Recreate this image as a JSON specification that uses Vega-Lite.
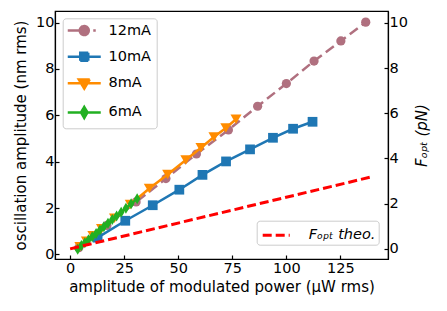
{
  "$schema": "https://vega.github.io/schema/vega-lite/v6.json",
  "width": 333,
  "height": 248,
  "autosize": {"type": "none"},
  "padding": {"left": 55, "top": 11, "right": 59, "bottom": 52},
  "config": {
    "font": "DejaVu Sans",
    "view": {"stroke": "#000", "strokeWidth": 1.2},
    "axis": {
      "domainColor": "#000", "domainWidth": 1.2, "tickColor": "#000", "tickWidth": 1.2,
      "tickSize": -4, "labelColor": "#000", "titleColor": "#000", "labelFontSize": 14.5,
      "titleFontSize": 15, "titleFontWeight": "normal", "grid": false, "labelFlush": false,
      "labelOverlap": false
    }
  },
  "datasets": {
    "series": [
      {"series": "12mA", "x": 4, "y": 0.29},
      {"series": "12mA", "x": 17, "y": 1.25},
      {"series": "12mA", "x": 30.5, "y": 2.26},
      {"series": "12mA", "x": 44.3, "y": 3.27},
      {"series": "12mA", "x": 58.4, "y": 4.33},
      {"series": "12mA", "x": 73.2, "y": 5.37},
      {"series": "12mA", "x": 86.7, "y": 6.39},
      {"series": "12mA", "x": 100, "y": 7.37},
      {"series": "12mA", "x": 112.8, "y": 8.34},
      {"series": "12mA", "x": 125.2, "y": 9.21},
      {"series": "12mA", "x": 136.7, "y": 10.02},
      {"series": "10mA", "x": 12.7, "y": 0.72},
      {"series": "10mA", "x": 25.5, "y": 1.45},
      {"series": "10mA", "x": 38.2, "y": 2.12},
      {"series": "10mA", "x": 50.5, "y": 2.79},
      {"series": "10mA", "x": 61.2, "y": 3.43},
      {"series": "10mA", "x": 72.1, "y": 4.01},
      {"series": "10mA", "x": 83.2, "y": 4.53},
      {"series": "10mA", "x": 93.8, "y": 5.03},
      {"series": "10mA", "x": 103.1, "y": 5.42},
      {"series": "10mA", "x": 112.1, "y": 5.72},
      {"series": "8mA", "x": 4.5, "y": 0.33},
      {"series": "8mA", "x": 7.5, "y": 0.57},
      {"series": "8mA", "x": 10.5, "y": 0.8},
      {"series": "8mA", "x": 14.5, "y": 1.1},
      {"series": "8mA", "x": 20.5, "y": 1.56},
      {"series": "8mA", "x": 27.8, "y": 2.15},
      {"series": "8mA", "x": 36.6, "y": 2.84},
      {"series": "8mA", "x": 45.1, "y": 3.45},
      {"series": "8mA", "x": 53.5, "y": 4.07},
      {"series": "8mA", "x": 60.5, "y": 4.6},
      {"series": "8mA", "x": 66.5, "y": 5.06},
      {"series": "8mA", "x": 72.0, "y": 5.45},
      {"series": "8mA", "x": 76.7, "y": 5.83},
      {"series": "6mA", "x": 3.5, "y": 0.22},
      {"series": "6mA", "x": 5.2, "y": 0.38},
      {"series": "6mA", "x": 6.8, "y": 0.5},
      {"series": "6mA", "x": 8.5, "y": 0.63},
      {"series": "6mA", "x": 10.2, "y": 0.76},
      {"series": "6mA", "x": 12.0, "y": 0.9},
      {"series": "6mA", "x": 13.8, "y": 1.05},
      {"series": "6mA", "x": 15.6, "y": 1.19},
      {"series": "6mA", "x": 17.5, "y": 1.34},
      {"series": "6mA", "x": 19.5, "y": 1.5},
      {"series": "6mA", "x": 21.5, "y": 1.66},
      {"series": "6mA", "x": 23.6, "y": 1.82},
      {"series": "6mA", "x": 25.8, "y": 1.99},
      {"series": "6mA", "x": 28.2, "y": 2.18},
      {"series": "6mA", "x": 31.0, "y": 2.4}
    ],
    "theory": [
      {"label": "Fₒₚₜ theo.", "x": 0, "f": 0},
      {"label": "Fₒₚₜ theo.", "x": 140, "f": 3.2}
    ]
  },
  "layer": [
    {
      "data": {"name": "series"},
      "encoding": {
        "x": {"field": "x", "type": "quantitative", "scale": {"domain": [-7, 147], "nice": false, "zero": false},
              "axis": {"values": [0, 25, 50, 75, 100, 125], "title": "amplitude of modulated power (μW rms)", "labelPadding": 6, "titlePadding": 5}},
        "y": {"field": "y", "type": "quantitative", "scale": {"domain": [-0.2, 10.5], "nice": false, "zero": false},
              "axis": {"values": [0, 2, 4, 6, 8, 10], "title": "oscillation amplitude (nm rms)", "labelPadding": 5, "titlePadding": 7}},
        "color": {"field": "series", "type": "nominal",
          "scale": {"domain": ["12mA", "10mA", "8mA", "6mA"], "range": ["#b0707f", "#1f77b4", "#ff8c00", "#22b022"]},
          "legend": {
            "orient": "none", "legendX": 7.7, "legendY": 7.3, "title": null, "padding": 5, "symbolSize": 100,
            "symbolStrokeWidth": 2.5, "symbolOffset": 9.3, "labelOffset": 17, "rowPadding": 7.3,
            "labelFontSize": 14.5, "labelColor": "#000", "strokeColor": "#cccccc", "fillColor": "rgba(255,255,255,0.8)", "cornerRadius": 3,
            "encode": {"symbols": {"update": {
              "shape": {"signal": "datum.value==='12mA'?'M-3.3,0H-0.9M-0.9,0A0.9,0.9,0,1,1,0.9,0A0.9,0.9,0,1,1,-0.9,0M1.8,0H2.3':datum.value==='10mA'?'M-3.3,0H3.3M-0.8,-0.8H0.8V0.8H-0.8Z':datum.value==='8mA'?'M-3.3,0H3.3M-1.1,-0.75H1.1L0,1.1Z':'M-3.3,0H3.3M0,-1.1L0.65,0L0,1.1L-0.65,0Z'"},
              "fill": {"signal": "datum.value==='12mA'?'#b0707f':datum.value==='10mA'?'#1f77b4':datum.value==='8mA'?'#ff8c00':'#22b022'"},
              "stroke": {"signal": "datum.value==='12mA'?'#b0707f':datum.value==='10mA'?'#1f77b4':datum.value==='8mA'?'#ff8c00':'#22b022'"},
              "size": {"value": 100},
              "strokeWidth": {"value": 2.5},
              "opacity": {"value": 1},
              "fillOpacity": {"value": 1},
              "strokeDash": {"value": [1, 0]}
            }}}
          }
        }
      },
      "layer": [
        {"transform": [{"filter": "datum.series==='12mA'"}],
         "mark": {"type": "line", "strokeWidth": 2.5, "strokeDash": [10, 5], "point": {"filled": true, "shape": "circle", "size": 85, "opacity": 1}}},
        {"transform": [{"filter": "datum.series==='10mA'"}],
         "mark": {"type": "line", "strokeWidth": 2.5, "point": {"filled": true, "shape": "square", "size": 95, "opacity": 1}}},
        {"transform": [{"filter": "datum.series==='8mA'"}],
         "mark": {"type": "line", "strokeWidth": 2.5, "point": {"filled": true, "shape": "triangle-down", "size": 121, "opacity": 1}}},
        {"transform": [{"filter": "datum.series==='6mA'"}],
         "mark": {"type": "line", "strokeWidth": 2.5, "point": {"filled": true, "shape": "M0,-1L0.6,0L0,1L-0.6,0Z", "size": 121, "opacity": 1}}}
      ]
    },
    {
      "data": {"name": "theory"},
      "mark": {"type": "line", "color": "#ff0000", "strokeWidth": 3},
      "encoding": {
        "x": {"field": "x", "type": "quantitative", "scale": {"domain": [-7, 147], "nice": false, "zero": false},
              "axis": {"values": [0, 25, 50, 75, 100, 125], "title": "amplitude of modulated power (μW rms)", "labelPadding": 6, "titlePadding": 5}},
        "y": {"field": "f", "type": "quantitative", "scale": {"domain": [-0.45, 10.53], "nice": false, "zero": false},
              "axis": {"orient": "right", "values": [0, 2, 4, 6, 8, 10], "title": "Fₒₚₜ (pN)", "titleFontStyle": "italic", "titleAngle": 270, "labelPadding": 5, "titlePadding": 22}},
        "strokeDash": {"field": "label", "type": "nominal", "scale": {"range": [[9, 4]]},
          "legend": {
            "orient": "none", "legendX": 201.7, "legendY": 209.7, "title": null, "padding": 3,
            "symbolType": "M-1.35,0H1.35", "symbolSize": 400, "symbolStrokeWidth": 3, "symbolDash": [8, 4],
            "symbolStrokeColor": "#ff0000", "symbolFillColor": "transparent", "symbolOffset": 5, "labelOffset": 21,
            "labelFontSize": 14.5, "labelFontStyle": "italic", "labelColor": "#000",
            "strokeColor": "#cccccc", "fillColor": "rgba(255,255,255,0.8)", "cornerRadius": 3
          }
        }
      }
    }
  ],
  "resolve": {"scale": {"y": "independent"}, "axis": {"y": "independent"}}
}
